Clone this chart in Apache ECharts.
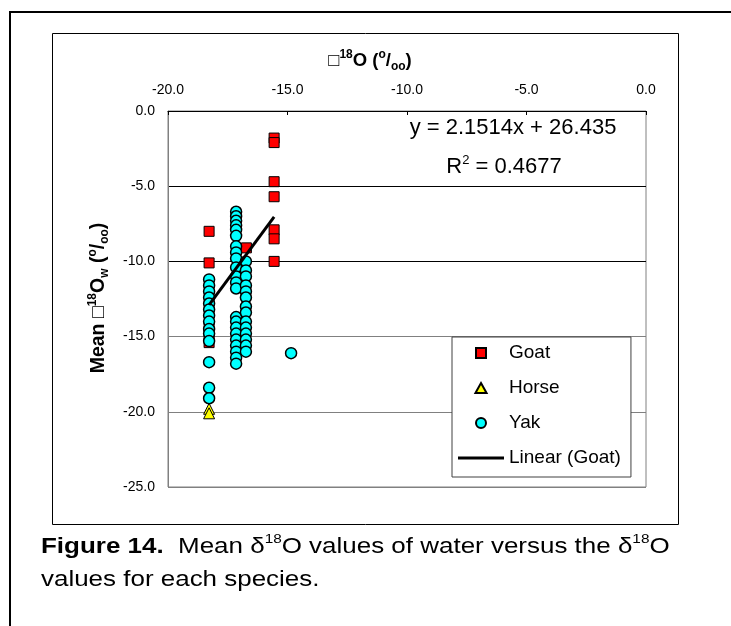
<!DOCTYPE html>
<html>
<head>
<meta charset="utf-8">
<script src="https://cdn.jsdelivr.net/npm/echarts@6/dist/echarts.min.js"></script>
<style>
  html, body { margin: 0; padding: 0; background: #fff; }
  #chart { width: 731px; height: 626px; }
</style>
</head>
<body>
<div id="chart"></div>
<script>
// Axis ranges and tick steps
const xRange = [-20, 0];
const yRange = [-25, 0];
const tickStep = 5;

// Goat samples: δ18O of the animal (x) vs mean δ18O of water (y)
const goatX = [-18.28, -18.28, -18.28, -18.28, -18.28, -16.72, -15.56, -15.56, -15.56, -15.56, -15.56, -15.56, -15.56];
const goatY = [-8.0, -10.1, -14.3, -14.8, -15.4, -9.1, -1.8, -2.1, -4.7, -5.7, -7.9, -8.5, -10.0];

// Horse samples
const horseX = [-18.28, -18.28];
const horseY = [-19.8, -20.1];

// Yak samples
const yakX = [
  -18.28, -18.28, -18.28, -18.28, -18.28, -18.28, -18.28, -18.28, -18.28, -18.28, -18.28, -18.28, -18.28, -18.28,
  -17.15, -17.15, -17.15, -17.15, -17.15, -17.15, -17.15, -17.15, -17.15, -17.15, -17.15, -17.15, -17.15,
  -17.15, -17.15, -17.15, -17.15, -17.15, -17.15, -17.15, -17.15, -17.15,
  -16.74, -16.74, -16.74, -16.74, -16.74, -16.74, -16.74, -16.74, -16.74, -16.74, -16.74, -16.74, -16.74, -16.74,
  -14.85
];
const yakY = [
  -11.2, -11.6, -12.0, -12.4, -12.8, -13.2, -13.6, -14.0, -14.5, -14.8, -15.3, -16.7, -18.4, -19.1,
  -6.7, -7.0, -7.3, -7.6, -7.9, -8.3, -9.0, -9.4, -9.8, -10.4, -11.0, -11.4, -11.8,
  -13.7, -14.0, -14.4, -14.8, -15.2, -15.6, -16.0, -16.4, -16.8,
  -10.0, -10.6, -11.0, -11.6, -12.0, -12.4, -13.0, -13.4, -14.0, -14.4, -14.8, -15.2, -15.6, -16.0,
  -16.1
];

// Linear trendline fitted to the goat samples
const trendSlope = 2.1514;
const trendIntercept = 26.435;
const trendR2 = 0.4677;

const FONT = '"Liberation Sans", Arial, Helvetica, sans-serif';

const zip = (xs, ys) => xs.map((x, i) => [x, ys[i]]);
const goatMinX = Math.min(...goatX);
const goatMaxX = Math.max(...goatX);
const trendData = [goatMinX, goatMaxX].map(x => [x, trendSlope * x + trendIntercept]);

const chart = echarts.init(document.getElementById('chart'), null, { renderer: 'canvas' });

const supStyle = { fontSize: 12, fontWeight: 'bold', fontFamily: FONT, verticalAlign: 'top', lineHeight: 24 };
const subStyle = { fontSize: 12, fontWeight: 'bold', fontFamily: FONT, verticalAlign: 'bottom', lineHeight: 24 };
const boldStyle = { fontSize: 18.5, fontWeight: 'bold', fontFamily: FONT, lineHeight: 24 };
const boldStyleY = { fontSize: 19.5, fontWeight: 'bold', fontFamily: FONT, lineHeight: 24 };

chart.setOption({
  backgroundColor: '#fff',
  animation: false,
  grid: {
    left: 168, top: 111, right: 85, bottom: 139,
    show: true, borderColor: '#808080', borderWidth: 1, backgroundColor: '#fff'
  },
  xAxis: {
    type: 'value', position: 'top',
    min: xRange[0], max: xRange[1], interval: tickStep,
    axisLine: { show: true, onZero: false, lineStyle: { color: '#000', width: 1 } },
    axisTick: { show: true, inside: true, length: 4, lineStyle: { color: '#000' } },
    axisLabel: { formatter: v => v.toFixed(1), fontSize: 14, color: '#000', fontFamily: FONT, margin: 14 },
    splitLine: { show: false }
  },
  yAxis: {
    type: 'value',
    min: yRange[0], max: yRange[1], interval: tickStep,
    axisLine: { show: true, onZero: false, lineStyle: { color: '#808080', width: 1 } },
    axisTick: { show: false },
    axisLabel: { formatter: v => v.toFixed(1), fontSize: 14, color: '#000', fontFamily: FONT, margin: 13 },
    splitLine: { show: true, lineStyle: { color: ['#808080', '#808080', '#808080', '#000', '#000', '#000'], width: 1 } }
  },
  legend: {
    orient: 'vertical', left: 452, top: 337,
    padding: [6, 10, 9, 6],
    backgroundColor: '#fff', borderColor: '#404040', borderWidth: 1,
    itemWidth: 46, itemHeight: 10, itemGap: 15,
    symbolKeepAspect: true,
    textStyle: { fontSize: 19, fontFamily: FONT, color: '#000', lineHeight: 20 },
    data: [
      { name: 'Goat', icon: 'path://M0,0L10,0L10,10L0,10Z' },
      { name: 'Horse', icon: 'path://M5,0L10,9L0,9Z' },
      { name: 'Yak', icon: 'circle' },
      { name: 'Linear (Goat)', icon: 'path://M0,0L46,0L46,3L0,3Z' }
    ]
  },
  series: [
    {
      name: 'Goat', type: 'scatter', symbol: 'rect', symbolSize: 10,
      itemStyle: { color: '#ff0000', borderColor: '#000', borderWidth: 1, opacity: 1 },
      data: zip(goatX, goatY)
    },
    {
      name: 'Horse', type: 'scatter', symbol: 'triangle', symbolSize: 11,
      itemStyle: { color: '#ffff00', borderColor: '#000', borderWidth: 1, opacity: 1 },
      data: zip(horseX, horseY)
    },
    {
      name: 'Yak', type: 'scatter', symbol: 'circle', symbolSize: 11,
      itemStyle: { color: '#00ffff', borderColor: '#000', borderWidth: 1.5, opacity: 1 },
      data: zip(yakX, yakY)
    },
    {
      name: 'Linear (Goat)', type: 'line', symbol: 'none', showSymbol: false,
      lineStyle: { color: '#000', width: 3 },
      itemStyle: { color: '#000' },
      data: trendData, z: 5
    }
  ],
  graphic: [
    // page frame
    { type: 'rect', silent: true, z: 0, shape: { x: 10, y: 12, width: 760, height: 700 },
      style: { fill: null, stroke: '#000', lineWidth: 2 } },
    // chart frame
    { type: 'rect', silent: true, z: 0, shape: { x: 52.5, y: 33.5, width: 626, height: 491 },
      style: { fill: null, stroke: '#000', lineWidth: 1 } },
    // horizontal axis title
    { type: 'text', silent: true, z: 10, x: 370, y: 61,
      style: {
        text: '{b|\u25A1}{sup|18}{b|O (}{sup|o}{b|/}{sub|oo}{b|)}',
        align: 'center', verticalAlign: 'middle', fill: '#000',
        rich: { b: boldStyle, sup: supStyle, sub: subStyle }
      } },
    // vertical axis title
    { type: 'text', silent: true, z: 10, x: 99, y: 298, rotation: Math.PI / 2,
      style: {
        text: '{b|Mean \u25A1}{sup|18}{b|O}{sub|w}{b| (}{sup|o}{b|/}{sub|oo}{b|)}',
        align: 'center', verticalAlign: 'middle', fill: '#000',
        rich: { b: boldStyleY, sup: supStyle, sub: subStyle }
      } },
    // trendline equation
    { type: 'text', silent: true, z: 10, x: 513, y: 128,
      style: {
        text: 'y = ' + trendSlope + 'x + ' + trendIntercept,
        align: 'center', verticalAlign: 'middle', fill: '#000',
        font: '22px ' + FONT
      } },
    { type: 'text', silent: true, z: 10, x: 504, y: 167,
      style: {
        text: '{n|R}{s|2}{n| = ' + trendR2 + '}',
        align: 'center', verticalAlign: 'middle', fill: '#000',
        rich: {
          n: { fontSize: 22, fontFamily: FONT, lineHeight: 26 },
          s: { fontSize: 13, fontFamily: FONT, verticalAlign: 'top', lineHeight: 26 }
        }
      } },
    // figure caption
    { type: 'text', silent: true, z: 10, x: 41, y: 530, scaleX: 1.18,
      style: {
        text: '{fb|Figure 14.}{n|  Mean \u03B4}{sup|18}{n|O values of water versus the \u03B4}{sup|18}{n|O}\n{n|values for each species.}',
        align: 'left', verticalAlign: 'top', fill: '#000',
        rich: {
          fb: { fontSize: 22, fontWeight: 'bold', fontFamily: FONT, lineHeight: 33 },
          n: { fontSize: 22, fontFamily: FONT, lineHeight: 33 },
          sup: { fontSize: 13, fontFamily: FONT, verticalAlign: 'top', lineHeight: 33, padding: [3, 0, 0, 0] }
        }
      } }
  ]
});
</script>
</body>
</html>
